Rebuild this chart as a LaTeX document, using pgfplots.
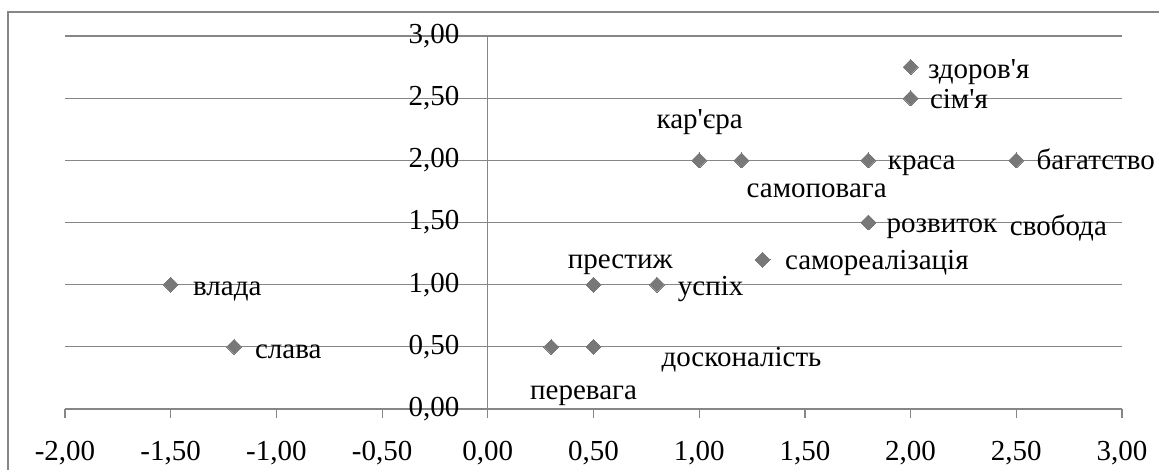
\documentclass[border=0pt]{standalone}
\usepackage{pgfplots}
\pgfplotsset{compat=1.18}
\usepackage{pgfplotstable}
\usepackage{fontspec}
\setmainfont{Liberation Serif}

\definecolor{markgray}{RGB}{120,120,120}
\definecolor{linegray}{RGB}{134,134,134}

\pgfkeys{/pgf/number format/.cd, fixed, fixed zerofill, precision=2, use comma, assume math mode=true}

% x y, label offset (pt) from the point to the label's base west
\pgfplotstableread{
x    y     dx     dy     name
-1.5 1.00  11.2   -5.2   влада
-1.2 0.50  10.5   -5.6   слава
0.3  0.50  -10.5  -26.3  перевага
0.5  0.50  34.0   -10.0  досконалість
0.5  1.00  -12.8  8.3    престиж
0.8  1.00  10.5   -5.2   успіх
1.0  2.00  -21.3  16.0   {кар\textquotesingle єра}
1.2  2.00  2.6    -18.5  самоповага
1.3  1.20  11.2   -4.7   самореалізація
1.8  1.50  9.2    -5.2   розвиток
1.8  1.50  70.8   -6.5   свобода
1.8  2.00  9.8    -4.8   краса
2.0  2.75  8.7    -5.5   {здоров\textquotesingle я}
2.0  2.50  9.7    -5.0   {сім\textquotesingle я}
2.5  2.00  10.2   -4.8   багатство
}\values

\begin{document}
\begin{tikzpicture}[font=\fontsize{14.5}{17}\selectfont]
\useasboundingbox (-32.5pt,-30.5pt) rectangle (547pt,204.5pt);
\draw[linegray, line width=0.6pt] (-28.5pt,-40pt) -- (-28.5pt,198.5pt) -- (560pt,198.5pt);
\begin{axis}[
    at={(0pt,0pt)}, anchor=south west,
    scale only axis,
    width=528.5pt, height=186.5pt,
    xmin=-2, xmax=3, ymin=0, ymax=3,
    axis x line=bottom, axis y line=middle,
    hide obscured x ticks=false, hide obscured y ticks=false,
    axis line style={-, draw=linegray, line width=0.6pt},
    xtick={-2,-1.5,...,3}, ytick={0,0.5,...,3},
    ymajorgrids, grid style={linegray, line width=0.6pt},
    tick align=outside, major tick length=4.5pt,
    x tick style={draw=linegray, line width=0.6pt},
    y tick style={draw=none},
    xticklabel style={anchor=north, inner sep=0pt, yshift=-11.5pt},
    yticklabel style={anchor=east, inner sep=0pt, xshift=-9.5pt},
    clip=false,
]
\addplot[only marks, color=markgray, mark=square*, mark size=2.65pt,
    mark options={rotate=45, fill=markgray, draw=markgray, line width=0pt},
    nodes near coords, point meta=explicit symbolic,
    visualization depends on={\thisrow{dx} \as \ldx},
    visualization depends on={\thisrow{dy} \as \ldy},
    nodes near coords style={anchor=base west, inner sep=0pt,
        xshift=\ldx pt, yshift=\ldy pt, text=black}]
    table[x=x, y=y, meta=name] {\values};
\end{axis}
\end{tikzpicture}
\end{document}
